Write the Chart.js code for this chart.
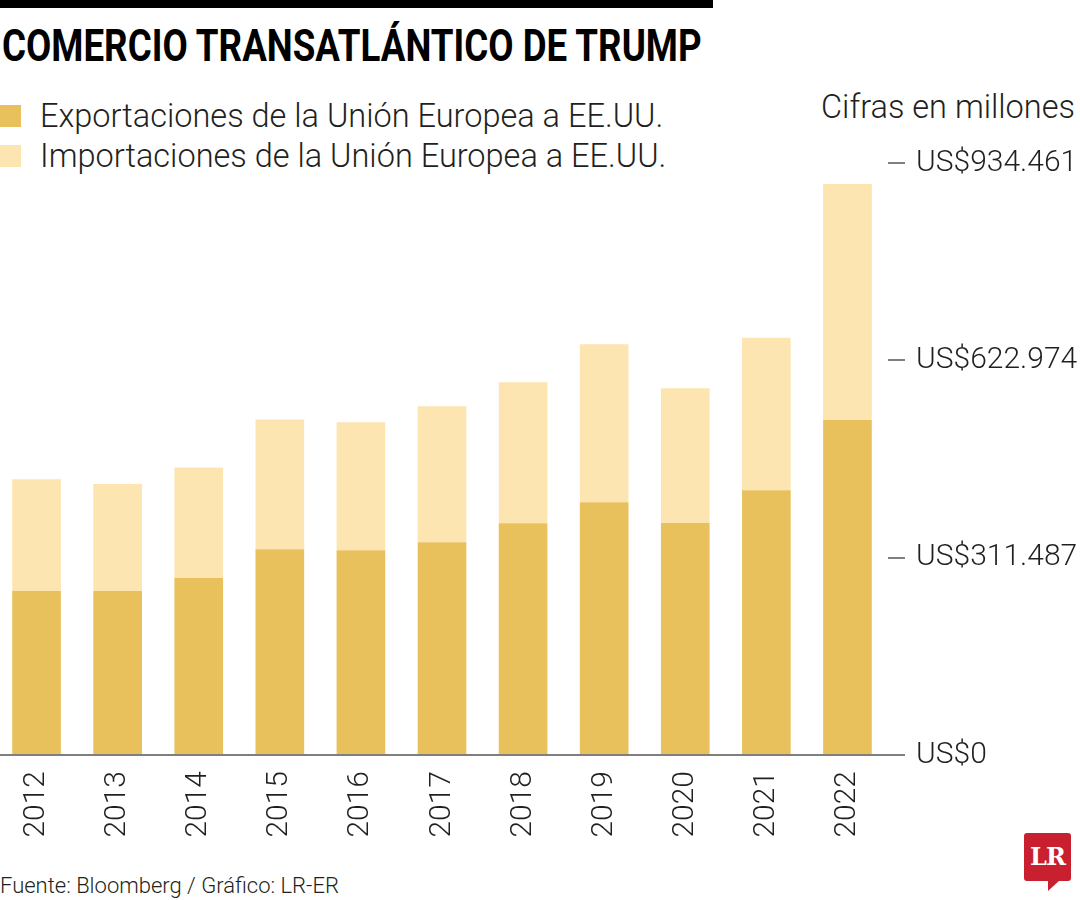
<!DOCTYPE html>
<html>
<head>
<meta charset="utf-8">
<script src="https://cdn.jsdelivr.net/npm/chart.js@4.4.0/dist/chart.umd.min.js"></script>
<style>
  html, body { margin: 0; padding: 0; background: #fff; }
  body { width: 1080px; height: 900px; position: relative; overflow: hidden;
         font-family: Roboto, "Open Sans", sans-serif; color: #231f20; }
  #topbar { position: absolute; left: 0; top: 0; width: 713px; height: 8px; background: #000; }
  #title { position: absolute; left: 2px; top: 24px; font-size: 44px; font-weight: 700;
           line-height: 1; white-space: nowrap; transform-origin: left top; color: #000; }
  .leg { position: absolute; left: 0; font-size: 32.5px; font-weight: 300; line-height: 1; white-space: nowrap; }
  .leg .sw { position: absolute; left: 0; top: 5px; width: 21px; height: 22px; }
  .leg .txt { position: absolute; left: 40px; top: 0; }
  #units { position: absolute; right: 5px; top: 91px; font-size: 32.5px; font-weight: 300; line-height: 1; white-space: nowrap; }
  #source { position: absolute; left: 0; top: 875px; font-size: 22px; font-weight: 300; line-height: 1; white-space: nowrap; }
  #logo { position: absolute; left: 1024px; top: 833px; width: 47px; height: 48px; background: #c8202f;
          border-radius: 3px; color: #fff; font-family: "DejaVu Serif", serif; font-weight: 700;
          font-size: 24px; line-height: 48px; text-align: center; letter-spacing: -1px; }
  #logo:after { content: ""; position: absolute; left: 24px; top: 47px; border-left: 0 solid transparent;
                border-right: 12px solid transparent; border-top: 11px solid #c8202f; }
  #wrap { position: absolute; left: -4px; top: 0; width: 1084px; height: 900px; }
</style>
</head>
<body>
<div id="topbar"></div>
<div id="title">COMERCIO TRANSATLÁNTICO DE TRUMP</div>
<div id="legend"></div>
<div id="units">Cifras en millones</div>
<div id="source">Fuente: Bloomberg / Gráfico: LR-ER</div>
<div id="logo">LR</div>
<div id="wrap"><canvas id="chart" width="1084" height="900"></canvas></div>

<script>
// years on the x axis
const years = ["2012", "2013", "2014", "2015", "2016", "2017", "2018", "2019", "2020", "2021", "2022"];

// EU exports to the US (millions of US$)
const exportsEU = [258800, 258800, 279300, 324700, 323100, 335700, 365700, 398900, 366200, 417900, 528900];

// EU imports from the US, stacked on top
const importsEU = [176400, 169000, 174400, 204900, 202200, 214900, 222800, 249600, 212800, 240600, 372400];

// right axis ticks
const yTicks = [0, 311487, 622974, 934461];

const seriesNames = ["Exportaciones de la Unión Europea a EE.UU.", "Importaciones de la Unión Europea a EE.UU."];
const seriesColors = ["#e8c15c", "#fde5b2"];

const FONT = 'Roboto, "Open Sans", sans-serif';

// html legend
const legend = document.getElementById("legend");
seriesNames.forEach((name, i) => {
  const row = document.createElement("div");
  row.className = "leg";
  row.style.top = (100 + i * 40) + "px";
  row.innerHTML = '<span class="sw" style="background:' + seriesColors[i] + '"></span><span class="txt">' + name + "</span>";
  legend.appendChild(row);
});

// squeeze the title to its width in the picture
const title = document.getElementById("title");
title.style.transform = "scaleX(" + (700 / title.offsetWidth) + ")";

function formatMoney(v) {
  return "US$" + String(v).replace(/\B(?=(\d{3})+(?!\d))/g, ".");
}

new Chart(document.getElementById("chart"), {
  type: "bar",
  data: {
    labels: years,
    datasets: [
      {
        label: seriesNames[0],
        data: exportsEU,
        backgroundColor: seriesColors[0],
        barPercentage: 0.6,
        categoryPercentage: 1,
      },
      {
        label: seriesNames[1],
        data: importsEU,
        backgroundColor: seriesColors[1],
        barPercentage: 0.6,
        categoryPercentage: 1,
      },
    ],
  },
  options: {
    responsive: false,
    animation: false,
    layout: { padding: { top: 163, left: 0, right: 0, bottom: 0 } },
    plugins: {
      legend: { display: false },
      tooltip: { enabled: false },
    },
    scales: {
      x: {
        stacked: true,
        grid: { display: false, drawTicks: false },
        border: { display: true, color: "#7f7f7f", width: 2 },
        ticks: {
          minRotation: 90,
          maxRotation: 90,
          padding: 16,
          color: "#231f20",
          font: { family: FONT, size: 30, weight: 300 },
        },
        afterFit: (scale) => {
          scale.height = 145;
        },
      },
      y: {
        position: "right",
        stacked: true,
        min: 0,
        max: 934461,
        grid: { drawOnChartArea: false, drawTicks: true, tickLength: 17, color: "#7f7f7f", lineWidth: 2 },
        border: { display: false },
        ticks: {
          padding: 11,
          color: "#231f20",
          font: { family: FONT, size: 30, weight: 300 },
          callback: (v) => formatMoney(v),
        },
        afterBuildTicks: (scale) => {
          scale.ticks = yTicks.map((v) => ({ value: v }));
        },
        afterFit: (scale) => {
          scale.width = 192;
        },
      },
    },
  },
});
</script>
</body>
</html>
